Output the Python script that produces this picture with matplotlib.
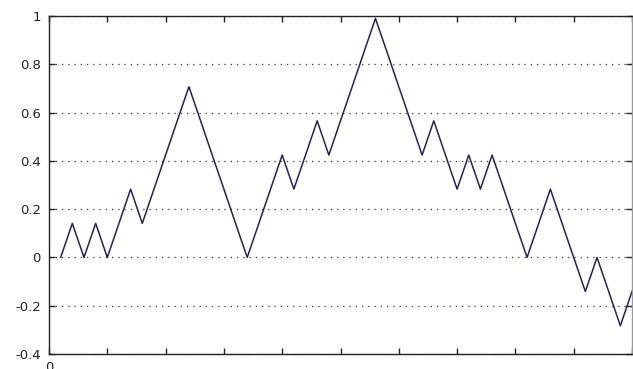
import numpy as np
import matplotlib
matplotlib.use('Agg')
import matplotlib.pyplot as plt

plt.rcParams['font.family'] = ['DejaVu Sans']

# walk position at each step (x = step number 1..50)
steps = list(range(1, 51))
walk = [0, 0.141, 0, 0.141, 0, 0.141, 0.283, 0.141, 0.283, 0.424,
        0.566, 0.707, 0.566, 0.424, 0.283, 0.141, 0, 0.141, 0.283, 0.424,
        0.283, 0.424, 0.566, 0.424, 0.566, 0.707, 0.849, 0.990, 0.849, 0.707,
        0.566, 0.424, 0.566, 0.424, 0.283, 0.424, 0.283, 0.424, 0.283, 0.141,
        0, 0.141, 0.283, 0.141, 0, -0.141, 0, -0.141, -0.283, -0.141]

yticks = [-0.4, -0.2, 0, 0.2, 0.4, 0.6, 0.8, 1]
ytick_labels = ['-0.4', '-0.2', '0', '0.2', '0.4', '0.6', '0.8', '1']
xticks = list(range(0, 55, 5))
xtick_labels = ['0'] + [''] * (len(xticks) - 1)

fig = plt.figure(figsize=(6.33, 3.69), dpi=100)
ax = fig.add_axes([49 / 633, 15 / 369, 583 / 633, 338 / 369])

ax.plot(steps, walk, color='#23235a', linewidth=1.1)

ax.set_xlim(0, 50)
ax.set_ylim(-0.4, 1)
ax.set_xticks(xticks)
ax.set_xticklabels(xtick_labels)
ax.set_yticks(yticks)
ax.set_yticklabels(ytick_labels)

ax.yaxis.grid(True, linestyle=(0, (1, 4)), color='#333333', linewidth=0.9)
ax.tick_params(direction='in', length=4, width=1, top=True, right=True,
               labelsize=9.5, colors='#222222')
ax.tick_params(axis='y', pad=6)
ax.tick_params(axis='x', pad=5)
for s in ax.spines.values():
    s.set_linewidth(1)
    s.set_color('#222222')
ax.spines['right'].set_color('#999999')

fig.savefig('out.png', dpi=100)
